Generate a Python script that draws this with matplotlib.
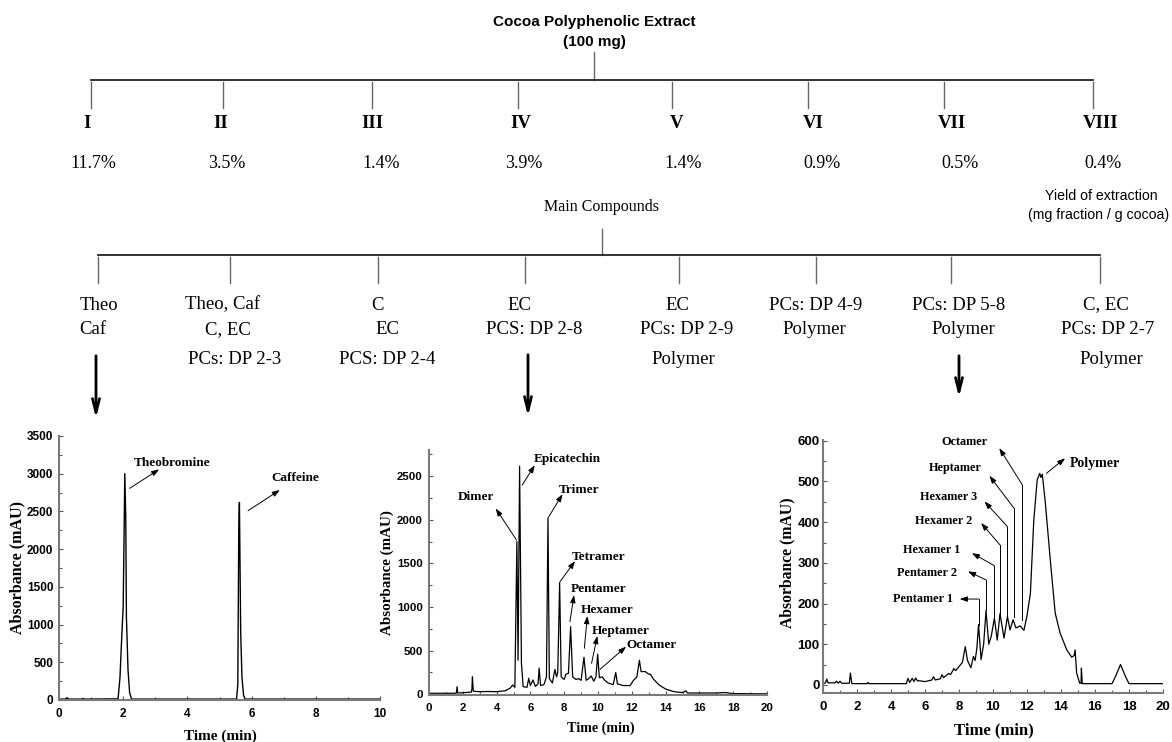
import matplotlib
matplotlib.use("Agg")
import matplotlib.pyplot as plt
from matplotlib.ticker import MultipleLocator

SERIF = "Liberation Serif"
SANS = "Liberation Sans"

# ---- fractionation scheme -------------------------------------------------
fractions = ["I", "II", "III", "IV", "V", "VI", "VII", "VIII"]
yields = ["11.7%", "3.5%", "1.4%", "3.9%", "1.4%", "0.9%", "0.5%", "0.4%"]
compounds = [
    ["Theo", "Caf"],
    ["Theo, Caf", "C, EC", "PCs: DP 2-3"],
    ["C", "EC", "PCS: DP 2-4"],
    ["EC", "PCS: DP 2-8"],
    ["EC", "PCs: DP 2-9", "Polymer"],
    ["PCs: DP 4-9", "Polymer"],
    ["PCs: DP 5-8", "Polymer"],
    ["C, EC", "PCs: DP 2-7", "Polymer"],
]

# ---- chromatograms (time in min, absorbance in mAU) ----------------------
# fraction I
t_frac1 = [0, 0.2, 0.25, 0.3, 0.7, 0.75, 0.8, 1.84, 1.9, 1.94, 2.0, 2.05, 2.08,
           2.1, 2.15, 2.2, 2.26, 5.53, 5.57, 5.6, 5.62, 5.66, 5.7, 5.75, 5.8, 10]
abs_frac1 = [12, 12, 30, 12, 12, 20, 12, 15, 300, 700, 1250, 3000, 2400,
             1100, 400, 100, 12, 12, 200, 2250, 2620, 900, 300, 60, 12, 12]
peaks_frac1 = ["Theobromine", "Caffeine"]

# fraction IV
t_frac4 = [0, 1.5, 1.62, 1.66, 1.7, 2.0, 2.5, 2.54, 2.57, 2.62, 3.0, 3.5, 4.0,
           4.5, 4.8, 4.95, 5.08, 5.2, 5.27, 5.36, 5.47, 5.57, 5.8, 5.9, 6.0,
           6.15, 6.3, 6.45, 6.52, 6.6, 6.8, 6.95, 7.04, 7.12, 7.3, 7.45, 7.55,
           7.62, 7.73, 7.82, 8.0, 8.1, 8.25, 8.38, 8.5, 8.7, 8.85, 9.0, 9.17,
           9.3, 9.45, 9.6, 9.75, 9.88, 9.98, 10.08, 10.25, 10.4, 10.6, 10.9,
           11.05, 11.15, 11.5, 11.9, 12.1, 12.3, 12.45, 12.55, 12.8, 13.0, 13.1,
           13.3, 13.6, 14.0, 14.5, 15.0, 15.2, 15.3, 17.0, 17.5, 18.0, 20.0]
abs_frac4 = [12, 12, 15, 88, 15, 18, 25, 60, 200, 35, 30, 32, 30,
             40, 70, 107, 80, 1750, 390, 2615, 355, 88, 80, 183, 100,
             164, 90, 120, 300, 100, 110, 200, 2020, 180, 130, 285, 200,
             250, 1280, 200, 170, 230, 240, 775, 200, 170, 180, 160, 425,
             160, 180, 210, 150, 200, 460, 190, 200, 160, 130, 110,
             250, 120, 100, 100, 160, 200, 390, 260, 260, 230, 230,
             170, 110, 60, 30, 20, 40, 15, 15, 20, 8, 5]
peaks_frac4 = ["Dimer", "Epicatechin", "Trimer", "Tetramer",
               "Pentamer", "Hexamer", "Heptamer", "Octamer"]

# fraction VII
t_frac7 = [0, 0.15, 0.22, 0.3, 0.7, 0.8, 0.9, 1.0, 1.1, 1.55, 1.61, 1.7, 2.6,
           2.65, 2.7, 4.9, 5.0, 5.1, 5.25, 5.35, 5.45, 5.55, 5.7, 6.0, 6.4,
           6.5, 6.6, 6.9, 7.0, 7.1, 7.4, 7.5, 7.7, 7.8, 8.0, 8.2, 8.37, 8.5,
           8.7, 8.85, 8.95, 9.05, 9.15, 9.3, 9.45, 9.59, 9.75, 9.9, 10.08,
           10.25, 10.41, 10.65, 10.85, 11.0, 11.18, 11.35, 11.6, 11.82, 12.0,
           12.2, 12.4, 12.6, 12.75, 12.82, 12.9, 13.08, 13.37, 13.66, 13.95,
           14.34, 14.63, 14.77, 14.83, 14.92, 15.1, 15.18, 15.2, 15.25, 16.0,
           17.0, 17.2, 17.5, 17.8, 18.0, 20.0]
abs_frac7 = [3, 5, 14, 5, 5, 9, 4, 9, 4, 4, 29, 3, 3,
             6, 3, 3, 16, 6, 16, 8, 17, 10, 10, 8, 12,
             20, 12, 15, 25, 18, 28, 25, 40, 35, 45, 55, 94, 60,
             42, 70, 60, 90, 148, 62, 100, 183, 100, 120, 164,
             110, 175, 115, 168, 135, 160, 140, 145, 134, 170,
             225, 405, 504, 520, 510, 518, 447, 307, 176, 127,
             86, 68, 72, 86, 29, 4, 4, 41, 3, 3,
             3, 20, 50, 20, 3, 3]
peaks_frac7 = ["Pentamer 1", "Pentamer 2", "Hexamer 1", "Hexamer 2",
               "Hexamer 3", "Heptamer", "Octamer"]

FIG_W, FIG_H = 1172, 742
fig = plt.figure(figsize=(FIG_W / 100, FIG_H / 100), dpi=100)

# full-figure canvas for the scheme, in pixel units
canvas = fig.add_axes([0, 0, 1, 1])
canvas.set_xlim(0, FIG_W)
canvas.set_ylim(FIG_H, 0)
canvas.axis("off")

LINE = "#222222"
DROP = "#666666"

canvas.text(594, 22, "Cocoa Polyphenolic Extract", ha="center", va="center",
            family=SANS, weight="bold", fontsize=11)
canvas.text(594, 42, "(100 mg)", ha="center", va="center",
            family=SANS, weight="bold", fontsize=11)
canvas.plot([594, 594], [52, 80], color=DROP, lw=1)

top_x = [91, 223, 372, 518, 672, 808, 944, 1093]
label_x = [87, 221, 372, 521, 677, 813, 952, 1101]
yield_x = [93, 227, 381, 524, 683, 822, 960, 1103]
canvas.plot([top_x[0], top_x[-1]], [80, 80], color=LINE, lw=1.3)
for i, name in enumerate(fractions):
    canvas.plot([top_x[i], top_x[i]], [82, 108], color=DROP, lw=1)
    canvas.text(label_x[i], 123, name, ha="center", va="center",
                family=SERIF, weight="bold", fontsize=13.5)
    canvas.text(yield_x[i], 164, yields[i], ha="center", va="center",
                family=SERIF, fontsize=13)

canvas.text(1101, 196, "Yield of extraction", ha="center", va="center",
            family=SANS, fontsize=10.2)
canvas.text(1169, 215, "(mg fraction / g cocoa)", ha="right", va="center",
            family=SANS, fontsize=10.2)

canvas.text(601, 207, "Main Compounds", ha="center", va="center",
            family=SERIF, fontsize=11.5)
canvas.plot([602, 602], [229, 255], color=DROP, lw=1)

low_x = [98, 230, 378, 525, 679, 816, 951, 1100]
compound_x = [[99, 93], [223, 228, 235], [377, 387, 387], [519, 534],
              [677, 687, 683], [816, 814], [959, 963], [1106, 1108, 1111]]
line_y = [305, 330, 359]
canvas.plot([low_x[0], low_x[-1]], [255, 255], color=LINE, lw=1.3)
for i, lines in enumerate(compounds):
    canvas.plot([low_x[i], low_x[i]], [257, 283], color=DROP, lw=1)
    for j, txt in enumerate(lines):
        canvas.text(compound_x[i][j], line_y[j], txt, ha="center", va="center",
                    family=SERIF, fontsize=13.5)

for x, y0, y1 in [(96, 353, 421), (528, 352, 419), (959, 353, 400)]:
    canvas.annotate("", xy=(x, y1), xytext=(x, y0),
                    arrowprops=dict(arrowstyle="->,head_length=1.0,head_width=0.25",
                                    color="black", lw=2))


def px_axes(left, right, top, bottom):
    return fig.add_axes([left / FIG_W, 1 - bottom / FIG_H,
                         (right - left) / FIG_W, (bottom - top) / FIG_H])


def style_chrom(ax, xmax, ylim, ystep, tick_size, pad_y):
    ax.patch.set_alpha(0)
    ax.set_xlim(0, xmax)
    ax.set_ylim(*ylim)
    for side in ("top", "right"):
        ax.spines[side].set_visible(False)
    for side in ("left", "bottom"):
        ax.spines[side].set_color("#7a7a7a")
        ax.spines[side].set_linewidth(1.5)
    ax.xaxis.set_major_locator(MultipleLocator(2))
    ax.xaxis.set_minor_locator(MultipleLocator(1))
    ax.yaxis.set_major_locator(MultipleLocator(ystep))
    ax.yaxis.set_minor_locator(MultipleLocator(ystep / 2))
    ax.tick_params(which="both", direction="in", color="#555555", width=0.8)
    ax.tick_params(which="major", length=3)
    ax.tick_params(which="minor", length=2)
    ax.tick_params(axis="x", pad=6)
    ax.tick_params(axis="y", pad=pad_y)
    for lab in ax.get_xticklabels() + ax.get_yticklabels():
        lab.set_family(SANS)
        lab.set_weight("bold")
        lab.set_fontsize(tick_size)


def axis_labels(xc, xy, yc, yy, xsize, ysize):
    canvas.text(xc, xy, "Time (min)", ha="center", va="center",
                family=SERIF, weight="bold", fontsize=xsize)
    canvas.text(yc, yy, "Absorbance (mAU)", ha="center", va="center",
                rotation=90, family=SERIF, weight="bold", fontsize=ysize)


ARROW = dict(arrowstyle="-|>,head_length=0.45,head_width=0.16",
             color="black", lw=0.7, shrinkA=0, shrinkB=0)

# fraction I
ax1 = px_axes(59, 380, 436, 700)
ax1.plot(t_frac1, abs_frac1, color="black", lw=1)
style_chrom(ax1, 10, (0, 3500), 500, 8.5, 4)
axis_labels(220, 736, 17, 568, 11, 11.5)
notes1 = [((3.51, 3146), (2.2, 2806), (3.12, 3058)),
          ((7.35, 2939), (5.89, 2510), (6.88, 2784))]
for name, (txt, tail, head) in zip(peaks_frac1, notes1):
    ax1.annotate("", xy=head, xytext=tail, arrowprops=ARROW)
    ax1.text(*txt, name, ha="center", va="center", family=SERIF,
             weight="bold", fontsize=9.5)

# fraction IV
ax2 = px_axes(429, 767, 450, 695)
ax2.plot(t_frac4, abs_frac4, color="black", lw=0.9)
style_chrom(ax2, 20, (-8, 2800), 500, 8.2, 4.5)
axis_labels(601, 728, 387, 573, 10.2, 10.8)
notes4 = [((2.77, 2263), (5.18, 1767), (3.95, 2130)),
          ((8.18, 2702), (5.51, 2397), (6.26, 2626)),
          ((8.87, 2340), (7.06, 2027), (7.90, 2294)),
          ((10.06, 1576), (7.75, 1290), (8.64, 1527)),
          ((10.02, 1202), (8.34, 832), (8.58, 1137)),
          ((10.55, 966), (9.19, 527), (9.37, 897)),
          ((11.36, 725), (9.62, 355), (9.96, 668)),
          ((13.18, 565), (10.12, 286), (11.66, 546))]
for name, (txt, tail, head) in zip(peaks_frac4, notes4):
    ax2.annotate("", xy=head, xytext=tail, arrowprops=ARROW)
    ax2.text(*txt, name, ha="center", va="center", family=SERIF,
             weight="bold", fontsize=9.5)

# fraction VII
ax3 = px_axes(823, 1163, 440, 693)
ax3.plot(t_frac7, abs_frac7, color="black", lw=0.9)
style_chrom(ax3, 20, (-20, 602), 100, 9.5, 2.5)
axis_labels(994, 730, 787, 563, 12, 11.3)
# leader: peak time, foot, knee height, arrow head, label centre
notes7 = [(9.15, 148, 211, (8.04, 211), (5.91, 211)),
          (9.59, 183, 258, (8.53, 279), (6.10, 276)),
          (10.08, 164, 293, (8.76, 324), (6.40, 332)),
          (10.41, 175, 344, (9.30, 398), (7.07, 402)),
          (10.85, 168, 389, (9.50, 451), (7.36, 461)),
          (11.24, 168, 434, (9.79, 514), (7.79, 533)),
          (11.72, 160, 492, (10.37, 582), (8.31, 598))]
for name, (x, foot, knee, head, txt) in zip(peaks_frac7, notes7):
    ax3.plot([x, x], [foot, knee], color="black", lw=0.7)
    ax3.annotate("", xy=head, xytext=(x, knee), arrowprops=ARROW)
    ax3.text(*txt, name, ha="center", va="center", family=SERIF,
             weight="bold", fontsize=8.8)
ax3.annotate("", xy=(14.24, 557), xytext=(13.14, 520), arrowprops=ARROW)
ax3.text(16.0, 545, "Polymer", ha="center", va="center", family=SERIF,
         weight="bold", fontsize=10)

fig.savefig("out.png", dpi=100)
